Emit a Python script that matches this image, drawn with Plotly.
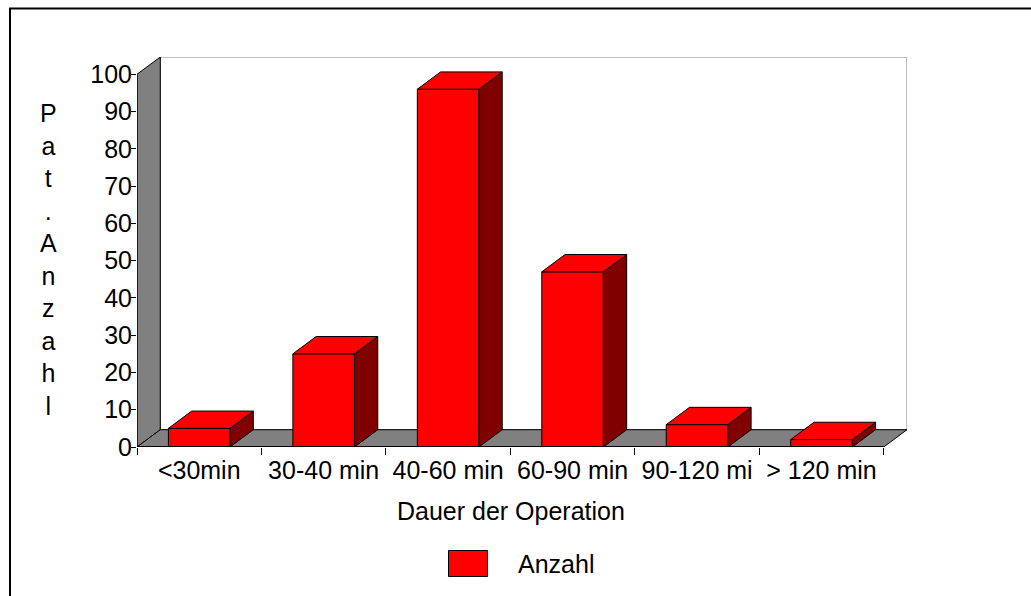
import plotly.graph_objects as go

# ---- data ----
categories = ["<30min", "30-40 min", "40-60 min", "60-90 min", "90-120 mi", "> 120 min"]
values = [5, 25, 96, 47, 6, 2]
y_ticks = [0, 10, 20, 30, 40, 50, 60, 70, 80, 90, 100]
y_title = "Pat.Anzahl"
x_title = "Dauer der Operation"
series_name = "Anzahl"

# ---- styling / geometry constants ----
FONT = "Liberation Sans, Arial, sans-serif"
FS = 25
RED = "#FF0000"
DARK = "#800000"
GRAY = "#808080"
BAR_W = 0.495
DX = 0.187      # depth offset in category units
DY = 4.64       # depth offset in value units
YMAX = 100
N = len(categories)
X0, X1 = -0.5, N - 0.5

# plot area in pixels
L, T, R, B = 137, 57, 124, 149
W = 1031 - L - R
H = 596 - T - B
def pxx(p):
    return (p - L) / W
def pxy(p):
    return (596 - B - p) / H

xs = list(range(N))

fig = go.Figure()

# front faces
fig.add_trace(go.Bar(
    x=xs, y=values, width=BAR_W, name=series_name,
    marker=dict(color=RED, line=dict(color="black", width=1)),
    showlegend=False, hoverinfo="skip"))

# top faces and side faces
tx, ty, sx, sy = [], [], [], []
for x, v in zip(xs, values):
    a, b = x - BAR_W / 2, x + BAR_W / 2
    tx += [a, b, b + DX, a + DX, a, None]
    ty += [v, v, v + DY, v + DY, v, None]
    sx += [b, b + DX, b + DX, b, b, None]
    sy += [0, DY, v + DY, v, 0, None]
fig.add_trace(go.Scatter(x=sx, y=sy, mode="lines", fill="toself",
                         fillcolor=DARK, line=dict(color="black", width=1),
                         showlegend=False, hoverinfo="skip"))
fig.add_trace(go.Scatter(x=tx, y=ty, mode="lines", fill="toself",
                         fillcolor=RED, line=dict(color="black", width=1),
                         showlegend=False, hoverinfo="skip"))

shapes = []
def path(pts):
    return "M " + " L ".join(f"{x},{y}" for x, y in pts) + " Z"

# back wall
shapes.append(dict(type="rect", xref="x", yref="y", layer="below",
                   x0=X0 + DX, x1=X1 + DX, y0=DY, y1=YMAX + DY,
                   fillcolor="white", line=dict(color=GRAY, width=1)))
# left wall
shapes.append(dict(type="path", xref="x", yref="y", layer="below",
                   path=path([(X0, 0), (X0, YMAX), (X0 + DX, YMAX + DY), (X0 + DX, DY)]),
                   fillcolor=GRAY, line=dict(color="black", width=1)))
# floor
shapes.append(dict(type="path", xref="x", yref="y", layer="below",
                   path=path([(X0, 0), (X0 + DX, DY), (X1 + DX, DY), (X1, 0)]),
                   fillcolor=GRAY, line=dict(color="black", width=1)))
# front axis lines
shapes.append(dict(type="line", xref="x", yref="y", layer="below",
                   x0=X0, x1=X0, y0=0, y1=YMAX, line=dict(color="black", width=1)))
shapes.append(dict(type="line", xref="x", yref="y", layer="above",
                   x0=X0, x1=X1, y0=0, y1=0, line=dict(color="black", width=2)))

# outer frame (top and left)
shapes.append(dict(type="line", xref="paper", yref="paper",
                   x0=pxx(9), x1=pxx(1035), y0=pxy(8.5), y1=pxy(8.5),
                   line=dict(color="black", width=2)))
shapes.append(dict(type="line", xref="paper", yref="paper",
                   x0=pxx(10), x1=pxx(10), y0=pxy(8), y1=pxy(600),
                   line=dict(color="black", width=2)))

# legend swatch
shapes.append(dict(type="rect", xref="paper", yref="paper",
                   x0=pxx(448.5), x1=pxx(487.5), y0=pxy(576.5), y1=pxy(550.5),
                   fillcolor=RED, line=dict(color="black", width=1)))

annotations = [
    dict(text="<br>".join(list(y_title)), xref="paper", yref="paper",
         x=pxx(48), y=pxy(259), xanchor="center", yanchor="middle",
         showarrow=False, font=dict(family=FONT, size=FS, color="black")),
    dict(text=x_title, xref="paper", yref="paper",
         x=pxx(511), y=pxy(511), xanchor="center", yanchor="middle",
         showarrow=False, font=dict(family=FONT, size=FS, color="black")),
    dict(text=series_name, xref="paper", yref="paper",
         x=pxx(516), y=pxy(564), xanchor="left", yanchor="middle",
         showarrow=False, font=dict(family=FONT, size=FS, color="black")),
]

fig.update_layout(
    width=1031, height=596,
    margin=dict(l=L, r=R, t=T, b=B, pad=0),
    paper_bgcolor="white", plot_bgcolor="rgba(0,0,0,0)",
    showlegend=False,
    font=dict(family=FONT, size=FS, color="black"),
    shapes=shapes, annotations=annotations,
    xaxis=dict(range=[X0, X1 + DX], tickvals=xs, ticktext=categories,
               ticks="", showgrid=False, zeroline=False, showline=False,
               tickfont=dict(family=FONT, size=FS, color="black"),
               ticklabelstandoff=6,
               minor=dict(tickvals=[i - 0.5 for i in range(N + 1)], ticks="outside",
                          ticklen=7, tickcolor="black", tickwidth=1, showgrid=False),
               fixedrange=True),
    yaxis=dict(range=[0, YMAX + DY], tickvals=y_ticks, ticks="outside", ticklen=5,
               tickcolor="black", tickwidth=1, showgrid=False, zeroline=False,
               showline=False, tickfont=dict(family=FONT, size=FS, color="black"),
               ticklabelstandoff=-6, fixedrange=True),
)

fig.write_html("out.html")
